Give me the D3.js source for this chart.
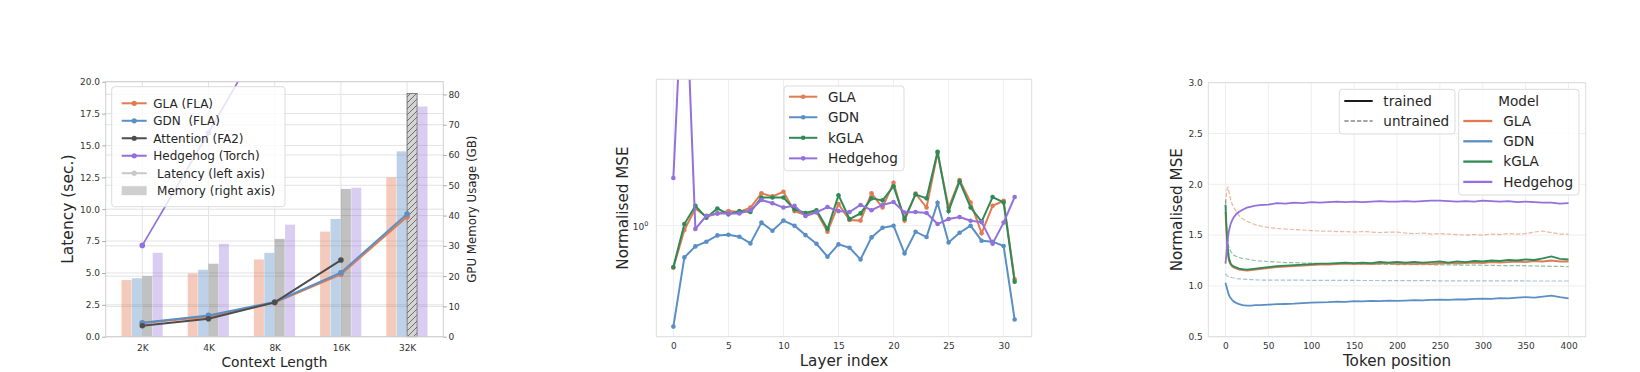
<!DOCTYPE html>
<html>
<head>
<meta charset="utf-8">
<script src="https://cdn.jsdelivr.net/npm/d3@7"></script>
<style>
  body { margin: 0; background: #fff; }
  svg text { font-family: "DejaVu Sans", sans-serif; fill: #262626; }
</style>
</head>
<body>
<svg id="fig" width="1640" height="372"></svg>
<script>
// ---------- panel 1: latency / memory vs context length ----------
const ctxLabels = ['2K', '4K', '8K', '16K', '32K'];
const latGLA = [1.07, 1.57, 2.67, 4.89, 9.41];
const latGDN = [1.10, 1.67, 2.72, 5.02, 9.62];
const latAttn = [0.86, 1.41, 2.69, 6.01, null];
const latHedge = [7.16, 16.0, 25.0, 45.0, null];
const memGLA = [18.7, 20.9, 25.5, 34.7, 52.6];
const memGDN = [19.3, 22.1, 27.7, 38.9, 61.2];
const memAttn = [20.0, 24.1, 32.3, 48.8, 80.3];
const memHedge = [27.7, 30.7, 37.0, 49.2, 76.0];
const latTicks = [0, 2.5, 5, 7.5, 10, 12.5, 15, 17.5, 20];
const memTicks = [0, 10, 20, 30, 40, 50, 60, 70, 80];

// ---------- panel 2: per-layer normalised MSE ----------
const layers = d3.range(32);
const layerTicks = [0, 5, 10, 15, 20, 25, 30];
const layerGLA = [0.668, 0.96, 1.18, 1.09, 1.125, 1.15, 1.14, 1.19, 1.364, 1.325, 1.385, 1.15, 1.108, 1.14, 0.944, 1.23,
  1.056, 1.05, 1.364, 1.19, 1.51, 1.05, 1.36, 1.19, 2.01, 1.19, 1.55, 1.25, 0.93, 1.21, 1.27, 0.598];
const layerGDN = [0.38, 0.738, 0.82, 0.858, 0.911, 0.917, 0.90, 0.844, 1.03, 0.953, 1.05, 1.0, 0.914, 0.841, 0.743, 0.836,
  0.81, 0.724, 0.894, 0.98, 1.0, 0.767, 0.944, 0.897, 1.247, 0.852, 0.935, 1.0, 0.866, 0.858, 0.823, 0.407];
const layerKGLA = [0.673, 1.016, 1.21, 1.08, 1.18, 1.115, 1.15, 1.14, 1.31, 1.31, 1.31, 1.17, 1.13, 1.16, 0.968, 1.34,
  1.066, 1.125, 1.30, 1.275, 1.46, 1.07, 1.35, 1.30, 2.03, 1.15, 1.53, 1.19, 1.04, 1.316, 1.25, 0.584];
const layerHedge = [1.58, 15.0, 0.97, 1.10, 1.125, 1.125, 1.125, 1.16, 1.28, 1.24, 1.19, 1.21, 1.097, 1.136, 1.196, 1.15,
  1.14, 1.22, 1.16, 1.22, 1.255, 1.135, 1.14, 1.13, 1.016, 1.066, 1.086, 1.049, 1.035, 0.842, 1.03, 1.316];

// ---------- panel 3: per-token normalised MSE ----------
const tokPos = [0, 1, 2, 3, 4, 6, 8, 10, 13, 16, 20, 25, 30, 35, 40, 50, 60, 70, 80, 90, 100, 110, 120, 130, 140, 150,
  160, 170, 180, 190, 200, 210, 220, 230, 240, 250, 260, 270, 280, 290, 300, 310, 320, 330, 340, 350, 360, 370, 380, 390, 400];
const tokHedgeT = [1.22, 1.30, 1.40, 1.48, 1.54, 1.61, 1.65, 1.68, 1.71, 1.73, 1.75, 1.77, 1.78, 1.79, 1.795, 1.80, 1.815,
  1.81, 1.82, 1.815, 1.825, 1.82, 1.825, 1.83, 1.825, 1.83, 1.825, 1.83, 1.835, 1.83, 1.83, 1.835, 1.83, 1.835, 1.84, 1.84,
  1.835, 1.83, 1.835, 1.83, 1.84, 1.835, 1.83, 1.835, 1.825, 1.83, 1.825, 1.82, 1.82, 1.81, 1.815];
const tokGLAT = [1.73, 1.55, 1.40, 1.30, 1.25, 1.21, 1.19, 1.18, 1.17, 1.16, 1.155, 1.15, 1.155, 1.16, 1.165, 1.175, 1.185,
  1.19, 1.195, 1.20, 1.205, 1.21, 1.21, 1.215, 1.22, 1.215, 1.22, 1.215, 1.22, 1.225, 1.215, 1.22, 1.215, 1.22, 1.215, 1.22,
  1.225, 1.22, 1.225, 1.23, 1.225, 1.235, 1.23, 1.235, 1.24, 1.235, 1.245, 1.24, 1.25, 1.24, 1.24];
const tokKGLAT = [1.80, 1.62, 1.45, 1.35, 1.28, 1.22, 1.20, 1.19, 1.18, 1.17, 1.165, 1.16, 1.165, 1.17, 1.175, 1.185, 1.195,
  1.20, 1.205, 1.21, 1.215, 1.22, 1.22, 1.225, 1.23, 1.225, 1.23, 1.225, 1.235, 1.23, 1.235, 1.23, 1.235, 1.23, 1.235, 1.24,
  1.23, 1.24, 1.235, 1.245, 1.24, 1.25, 1.245, 1.255, 1.25, 1.26, 1.255, 1.27, 1.29, 1.265, 1.26];
const tokGDNT = [1.03, 1.00, 0.97, 0.94, 0.91, 0.88, 0.86, 0.845, 0.83, 0.82, 0.81, 0.805, 0.805, 0.81, 0.81, 0.815, 0.82,
  0.822, 0.825, 0.83, 0.835, 0.838, 0.84, 0.845, 0.843, 0.85, 0.848, 0.852, 0.85, 0.855, 0.853, 0.856, 0.86, 0.857, 0.862,
  0.865, 0.862, 0.868, 0.866, 0.872, 0.875, 0.872, 0.88, 0.878, 0.885, 0.89, 0.885, 0.895, 0.905, 0.89, 0.878];
const tokGLAU = [1.75, 1.90, 1.96, 1.97, 1.93, 1.85, 1.80, 1.77, 1.73, 1.69, 1.66, 1.635, 1.62, 1.60, 1.59, 1.575, 1.565,
  1.56, 1.555, 1.55, 1.545, 1.54, 1.54, 1.535, 1.535, 1.53, 1.535, 1.53, 1.525, 1.53, 1.53, 1.52, 1.515, 1.52, 1.51, 1.515,
  1.51, 1.505, 1.50, 1.505, 1.50, 1.51, 1.505, 1.515, 1.51, 1.515, 1.53, 1.54, 1.525, 1.51, 1.51];
const tokKGLAU = [1.85, 1.65, 1.50, 1.42, 1.38, 1.34, 1.32, 1.30, 1.29, 1.28, 1.27, 1.265, 1.255, 1.25, 1.245, 1.24, 1.235,
  1.23, 1.23, 1.225, 1.225, 1.22, 1.22, 1.22, 1.218, 1.218, 1.215, 1.215, 1.213, 1.212, 1.21, 1.21, 1.21, 1.208, 1.208,
  1.207, 1.206, 1.205, 1.205, 1.204, 1.203, 1.202, 1.2, 1.2, 1.2, 1.198, 1.196, 1.195, 1.193, 1.192, 1.19];
const tokGDNU = [1.12, 1.11, 1.10, 1.095, 1.09, 1.085, 1.08, 1.078, 1.073, 1.07, 1.067, 1.064, 1.062, 1.06, 1.058, 1.057,
  1.057, 1.056, 1.056, 1.056, 1.055, 1.055, 1.055, 1.054, 1.054, 1.054, 1.053, 1.053, 1.053, 1.052, 1.052, 1.052, 1.051,
  1.051, 1.051, 1.05, 1.05, 1.05, 1.05, 1.05, 1.05, 1.049, 1.049, 1.049, 1.049, 1.049, 1.048, 1.048, 1.048, 1.048, 1.048];
const tokXTicks = [0, 50, 100, 150, 200, 250, 300, 350, 400];
const tokYTicks = [0.5, 1.0, 1.5, 2.0, 2.5, 3.0];

const C = { gla: '#E07B54', gdn: '#5A8FC5', attn: '#4D4D4D', kgla: '#2E8B57', hedge: '#9370DB' };

const svg = d3.select('#fig');
const defs = svg.append('defs');

function clip(id, b) {
  defs.append('clipPath').attr('id', id).append('rect')
    .attr('x', b.x0).attr('y', b.y0).attr('width', b.x1 - b.x0).attr('height', b.y1 - b.y0);
}
function frame(b, col) {
  svg.append('rect').attr('x', b.x0).attr('y', b.y0).attr('width', b.x1 - b.x0).attr('height', b.y1 - b.y0)
    .attr('fill', 'none').attr('stroke', col).attr('stroke-width', 1);
}
function styleAxis(g, size) {
  g.select('.domain').remove();
  g.selectAll('.tick line').attr('stroke', '#aaa');
  g.selectAll('text').attr('font-size', size).attr('font-family', null).style('fill', '#333');
}
function legendBox(x, y, w, h) {
  svg.append('rect').attr('x', x).attr('y', y).attr('width', w).attr('height', h).attr('rx', 3)
    .attr('fill', '#fff').attr('fill-opacity', 0.8).attr('stroke', '#dcdcdc');
}

// ================= PANEL 1 =================
const b1 = { x0: 105.7, x1: 443.3, y0: 81.7, y1: 336.7 };
clip('c1', b1);
const x1 = d3.scaleLinear().domain([-0.553, 4.547]).range([b1.x0, b1.x1]);
const yL = d3.scaleLinear().domain([0, 20]).range([b1.y1, b1.y0]);
const yR = d3.scaleLinear().domain([0, 84.2]).range([b1.y1, b1.y0]);

const g1 = svg.append('g');
g1.selectAll('.hl').data(latTicks).join('line')
  .attr('x1', b1.x0).attr('x2', b1.x1).attr('y1', d => yL(d)).attr('y2', d => yL(d))
  .attr('stroke', '#e3e3e3');
g1.selectAll('.hr').data(memTicks).join('line')
  .attr('x1', b1.x0).attr('x2', b1.x1).attr('y1', d => yR(d)).attr('y2', d => yR(d))
  .attr('stroke', '#e3e3e3');
g1.selectAll('.vl').data(ctxLabels).join('line')
  .attr('x1', (d, i) => x1(i)).attr('x2', (d, i) => x1(i)).attr('y1', b1.y0).attr('y2', b1.y1)
  .attr('stroke', '#e3e3e3');

// hatch for the out-of-memory attention bar
const pat = defs.append('pattern').attr('id', 'hatch').attr('patternUnits', 'userSpaceOnUse')
  .attr('width', 6).attr('height', 6);
pat.append('rect').attr('width', 6).attr('height', 6).attr('fill', '#d4d4d4');
pat.append('path').attr('d', 'M0,6 L6,0 M-1.5,1.5 L1.5,-1.5 M4.5,7.5 L7.5,4.5')
  .attr('stroke', '#555').attr('stroke-width', 0.8);

const bw = 0.157;
const memSeries = [
  { vals: memGLA, color: C.gla, op: 0.4 },
  { vals: memGDN, color: C.gdn, op: 0.4 },
  { vals: memAttn, color: C.attn, op: 0.35 },
  { vals: memHedge, color: C.hedge, op: 0.35 }
];
memSeries.forEach((s, k) => {
  g1.append('g').selectAll('rect').data(s.vals).join('rect')
    .attr('x', (d, i) => x1(i + (k - 2) * bw))
    .attr('width', x1(bw) - x1(0) - 0.4)
    .attr('y', d => yR(d))
    .attr('height', d => yR(0) - yR(d))
    .attr('fill', (d, i) => (k === 2 && i === 4) ? 'url(#hatch)' : s.color)
    .attr('fill-opacity', (d, i) => (k === 2 && i === 4) ? 1 : s.op)
    .attr('stroke', (d, i) => (k === 2 && i === 4) ? '#666' : 'none')
    .attr('stroke-width', 0.8);
});

const latSeries = [
  { vals: latGLA, color: C.gla, w: 2 },
  { vals: latGDN, color: C.gdn, w: 2 },
  { vals: latAttn, color: C.attn, w: 2 },
  { vals: latHedge, color: C.hedge, w: 1.7 }
];
const lineL = d3.line().defined(d => d != null).x((d, i) => x1(i)).y(d => yL(d));
const gl = g1.append('g').attr('clip-path', 'url(#c1)');
latSeries.forEach(s => {
  gl.append('path').attr('d', lineL(s.vals)).attr('fill', 'none')
    .attr('stroke', s.color).attr('stroke-width', s.w);
  gl.append('g').selectAll('circle').data(s.vals.map((v, i) => ({ v, i })).filter(d => d.v != null))
    .join('circle').attr('cx', d => x1(d.i)).attr('cy', d => yL(d.v)).attr('r', 2.8).attr('fill', s.color);
});

frame(b1, '#cfcfcf');

const axL = svg.append('g').attr('transform', `translate(${b1.x0},0)`)
  .call(d3.axisLeft(yL).tickValues(latTicks).tickFormat(d3.format('.1f')).tickSize(3.5).tickPadding(2.2));
styleAxis(axL, 9);
const axR = svg.append('g').attr('transform', `translate(${b1.x1},0)`)
  .call(d3.axisRight(yR).tickValues(memTicks).tickSize(3.5).tickPadding(1.6));
styleAxis(axR, 9);
const axB1 = svg.append('g').attr('transform', `translate(0,${b1.y1})`)
  .call(d3.axisBottom(x1).tickValues(d3.range(5)).tickFormat(i => ctxLabels[i]).tickSize(0).tickPadding(7.5));
styleAxis(axB1, 9);

svg.append('text').attr('transform', `translate(68.3,${(b1.y0 + b1.y1) / 2}) rotate(-90)`)
  .attr('text-anchor', 'middle').attr('dominant-baseline', 'central').attr('font-size', 15.5).text('Latency (sec.)');
svg.append('text').attr('transform', `translate(471.7,${(b1.y0 + b1.y1) / 2}) rotate(-90)`)
  .attr('text-anchor', 'middle').attr('dominant-baseline', 'central').attr('font-size', 11.8).text('GPU Memory Usage (GB)');
svg.append('text').attr('x', (b1.x0 + b1.x1) / 2).attr('y', 366.5)
  .attr('text-anchor', 'middle').attr('font-size', 13.8).text('Context Length');

// legend panel 1
const leg1 = [
  { t: 'GLA (FLA)', c: C.gla, kind: 'line' },
  { t: 'GDN  (FLA)', c: C.gdn, kind: 'line' },
  { t: 'Attention (FA2)', c: C.attn, kind: 'line' },
  { t: 'Hedgehog (Torch)', c: C.hedge, kind: 'line' },
  { t: ' Latency (left axis)', c: '#c8c8c8', kind: 'line' },
  { t: ' Memory (right axis)', c: '#cfcfcf', kind: 'patch' }
];
legendBox(111.7, 86.7, 173.3, 120);
leg1.forEach((d, k) => {
  const y = 103.3 + k * 17.48;
  if (d.kind === 'line') {
    svg.append('line').attr('x1', 121.7).attr('x2', 146.7).attr('y1', y).attr('y2', y)
      .attr('stroke', d.c).attr('stroke-width', 2);
    svg.append('circle').attr('cx', 134.2).attr('cy', y).attr('r', 2.6).attr('fill', d.c);
  } else {
    svg.append('rect').attr('x', 121.7).attr('y', y - 4.5).attr('width', 25).attr('height', 9).attr('fill', d.c);
  }
  svg.append('text').attr('x', 153.3).attr('y', y).attr('dy', '0.36em').attr('font-size', 12)
    .style('white-space', 'pre').text(d.t);
});

// ================= PANEL 2 =================
const b2 = { x0: 656.3, x1: 1031.7, y0: 79.3, y1: 336.7 };
clip('c2', b2);
const x2 = d3.scaleLinear().domain([-1.55, 32.55]).range([b2.x0, b2.x1]);
const y2 = d3.scaleLog().domain([0.345, 4.07]).range([b2.y1, b2.y0]);
const g2 = svg.append('g');
g2.selectAll('.v').data(layerTicks).join('line')
  .attr('x1', d => x2(d)).attr('x2', d => x2(d)).attr('y1', b2.y0).attr('y2', b2.y1).attr('stroke', '#eeeeee');
g2.append('line').attr('x1', b2.x0).attr('x2', b2.x1).attr('y1', y2(1)).attr('y2', y2(1)).attr('stroke', '#eeeeee');

const layerSeries = [
  { vals: layerGLA, c: C.gla, t: 'GLA' },
  { vals: layerGDN, c: C.gdn, t: 'GDN' },
  { vals: layerKGLA, c: C.kgla, t: 'kGLA' },
  { vals: layerHedge, c: C.hedge, t: 'Hedgehog' }
];
const line2 = d3.line().x((d, i) => x2(layers[i])).y(d => y2(d));
const gc2 = g2.append('g').attr('clip-path', 'url(#c2)');
layerSeries.forEach(s => {
  gc2.append('path').attr('d', line2(s.vals)).attr('fill', 'none').attr('stroke', s.c).attr('stroke-width', 2);
  gc2.append('g').selectAll('circle').data(s.vals).join('circle')
    .attr('cx', (d, i) => x2(layers[i])).attr('cy', d => y2(d)).attr('r', 2.3).attr('fill', s.c);
});
frame(b2, '#dddddd');
const axB2 = svg.append('g').attr('transform', `translate(0,${b2.y1})`)
  .call(d3.axisBottom(x2).tickValues(layerTicks).tickSize(0).tickPadding(6.2));
styleAxis(axB2, 9);
const yt = svg.append('text').attr('x', 648.3).attr('y', y2(1)).attr('dy', '0.45em')
  .attr('text-anchor', 'end').attr('font-size', 9).style('fill', '#333');
yt.append('tspan').text('10');
yt.append('tspan').attr('font-size', 6.5).attr('dy', '-0.55em').text('0');

svg.append('text').attr('transform', `translate(622.7,${(b2.y0 + b2.y1) / 2}) rotate(-90)`)
  .attr('text-anchor', 'middle').attr('dominant-baseline', 'central').attr('font-size', 15.2).text('Normalised MSE');
svg.append('text').attr('x', (b2.x0 + b2.x1) / 2).attr('y', 366)
  .attr('text-anchor', 'middle').attr('font-size', 15.2).text('Layer index');

legendBox(784, 86, 120, 84.7);
layerSeries.forEach((s, k) => {
  const y = 96.7 + k * 20.55;
  svg.append('line').attr('x1', 789).attr('x2', 817.3).attr('y1', y).attr('y2', y)
    .attr('stroke', s.c).attr('stroke-width', 2);
  svg.append('circle').attr('cx', 803.2).attr('cy', y).attr('r', 2.3).attr('fill', s.c);
  svg.append('text').attr('x', 828).attr('y', y).attr('dy', '0.36em').attr('font-size', 13.6).text(s.t);
});

// ================= PANEL 3 =================
const b3 = { x0: 1208.3, x1: 1585.7, y0: 82.7, y1: 336.7 };
clip('c3', b3);
const x3 = d3.scaleLinear().domain([-20, 420]).range([b3.x0, b3.x1]);
const y3 = d3.scaleLinear().domain([0.5, 3.0]).range([b3.y1, b3.y0]);
const g3 = svg.append('g');
g3.selectAll('.v').data(tokXTicks).join('line')
  .attr('x1', d => x3(d)).attr('x2', d => x3(d)).attr('y1', b3.y0).attr('y2', b3.y1).attr('stroke', '#eeeeee');
g3.selectAll('.h').data(tokYTicks).join('line')
  .attr('x1', b3.x0).attr('x2', b3.x1).attr('y1', d => y3(d)).attr('y2', d => y3(d)).attr('stroke', '#eeeeee');

const line3 = d3.line().x((d, i) => x3(tokPos[i])).y(d => y3(d));
const gc3 = g3.append('g').attr('clip-path', 'url(#c3)');
const untrained = [
  { vals: tokGLAU, c: C.gla },
  { vals: tokGDNU, c: C.gdn },
  { vals: tokKGLAU, c: C.kgla }
];
untrained.forEach(s => {
  gc3.append('path').attr('d', line3(s.vals)).attr('fill', 'none').attr('stroke', s.c)
    .attr('stroke-opacity', 0.55).attr('stroke-width', 1.2).attr('stroke-dasharray', '4.4,1.9');
});
const trained = [
  { vals: tokGLAT, c: C.gla, t: 'GLA' },
  { vals: tokGDNT, c: C.gdn, t: 'GDN' },
  { vals: tokKGLAT, c: C.kgla, t: 'kGLA' },
  { vals: tokHedgeT, c: C.hedge, t: 'Hedgehog' }
];
trained.forEach(s => {
  gc3.append('path').attr('d', line3(s.vals)).attr('fill', 'none').attr('stroke', s.c).attr('stroke-width', 1.8);
});
frame(b3, '#dddddd');
const axB3 = svg.append('g').attr('transform', `translate(0,${b3.y1})`)
  .call(d3.axisBottom(x3).tickValues(tokXTicks).tickSize(0).tickPadding(6.2));
styleAxis(axB3, 9);
const axL3 = svg.append('g').attr('transform', `translate(${b3.x0},0)`)
  .call(d3.axisLeft(y3).tickValues(tokYTicks).tickFormat(d3.format('.1f')).tickSize(0).tickPadding(5.6));
styleAxis(axL3, 9);

svg.append('text').attr('transform', `translate(1177.3,${(b3.y0 + b3.y1) / 2}) rotate(-90)`)
  .attr('text-anchor', 'middle').attr('dominant-baseline', 'central').attr('font-size', 15.2).text('Normalised MSE');
svg.append('text').attr('x', (b3.x0 + b3.x1) / 2).attr('y', 366)
  .attr('text-anchor', 'middle').attr('font-size', 15.2).text('Token position');

// style legend
legendBox(1339.3, 89.3, 115.7, 44.7);
svg.append('line').attr('x1', 1344.3).attr('x2', 1372.7).attr('y1', 101).attr('y2', 101)
  .attr('stroke', '#1a1a1a').attr('stroke-width', 2);
svg.append('text').attr('x', 1383.3).attr('y', 101).attr('dy', '0.36em').attr('font-size', 13.6).text('trained');
svg.append('line').attr('x1', 1344.3).attr('x2', 1372.7).attr('y1', 121).attr('y2', 121)
  .attr('stroke', '#888').attr('stroke-width', 1.3).attr('stroke-dasharray', '4.4,1.9');
svg.append('text').attr('x', 1383.3).attr('y', 121).attr('dy', '0.36em').attr('font-size', 13.6).text('untrained');

// model legend
legendBox(1458.7, 89.3, 120.3, 105.7);
svg.append('text').attr('x', 1518.7).attr('y', 101).attr('dy', '0.36em').attr('text-anchor', 'middle')
  .attr('font-size', 13.6).text('Model');
trained.forEach((s, k) => {
  const y = 121 + k * 20.3;
  svg.append('line').attr('x1', 1463.3).attr('x2', 1492.3).attr('y1', y).attr('y2', y)
    .attr('stroke', s.c).attr('stroke-width', 2.3);
  svg.append('text').attr('x', 1503.3).attr('y', y).attr('dy', '0.36em').attr('font-size', 13.6).text(s.t);
});
</script>
</body>
</html>
